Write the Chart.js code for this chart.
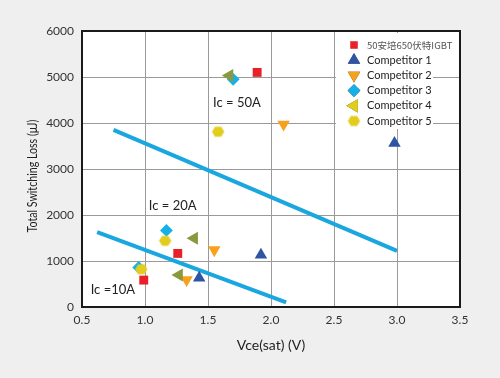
<!DOCTYPE html>
<html>
<head>
<meta charset="utf-8">
<script src="https://cdn.jsdelivr.net/npm/chart.js@4/dist/chart.umd.min.js"></script>
<style>
html,body{margin:0;padding:0;background:#efefef;}
#wrap{width:500px;height:378px;}
</style>
</head>
<body>
<div id="wrap"><canvas id="c" width="500" height="378"></canvas></div>
<script>
// ---- data ----
const seriesNames = ['50安培650伏特IGBT','Competitor 1','Competitor 2','Competitor 3','Competitor 4','Competitor 5'];
const igbtX  = [1.89, 1.26, 0.99];
const igbtY  = [5100, 1165, 585];
const comp1X = [2.98, 1.92, 1.43];
const comp1Y = [3560, 1130, 630];
const comp2X = [2.10, 1.55, 1.33];
const comp2Y = [3970, 1240, 590];
const comp3X = [1.70, 1.17, 0.95];
const comp3Y = [4950, 1665, 860];
const comp4X = [1.67, 1.39, 1.27];
const comp4Y = [5030, 1495, 695];
const comp5X = [1.58, 1.16, 0.97];
const comp5Y = [3810, 1440, 820];
const line50X = [0.75, 3.00];
const line50Y = [3850, 1220];
const line20X = [0.62, 2.12];
const line20Y = [1630, 100];
const xTickValues = [0.5, 1.0, 1.5, 2.0, 2.5, 3.0, 3.5];
const yTickValues = [0, 1000, 2000, 3000, 4000, 5000, 6000];
const noteTexts = ['Ic = 50A', 'Ic = 20A', 'Ic =10A'];
const noteX = [1.73, 1.22, 0.745];
const noteY = [4435, 2195, 370];
const xTitle = 'Vce(sat) (V)';
const yTitle = 'Total Switching Loss (μJ)';

const FONT = 'Lato';

function pts(xs, ys){ return xs.map((x,i)=>({x:x, y:ys[i]})); }

// hexagon point style
function hexCanvas(r, color){
  const c = document.createElement('canvas');
  const s = Math.ceil(2*r+2);
  c.width = s; c.height = s;
  const g = c.getContext('2d');
  g.fillStyle = color;
  g.beginPath();
  for (let k=0;k<6;k++){
    const a = Math.PI/3*k;
    const px = s/2 + r*Math.cos(a), py = s/2 + r*0.95*Math.sin(a);
    if (k===0) g.moveTo(px,py); else g.lineTo(px,py);
  }
  g.closePath(); g.fill();
  return c;
}
const hexImg = hexCanvas(6.2, '#e2cd1f');

const styles = [
  {color:'#e8202a', pointStyle:'rect', rotation:0, radius:6.3},
  {color:'#2e54a3', pointStyle:'triangle', rotation:0, radius:7.2},
  {color:'#f7a11d', pointStyle:'triangle', rotation:180, radius:7.2},
  {color:'#16b0e8', pointStyle:'rectRot', rotation:0, radius:6.4},
  {color:'#8c983d', pointStyle:'triangle', rotation:-90, radius:7.6},
  {color:'#e2cd1f', pointStyle:hexImg, rotation:0, radius:6.2}
];
const seriesX = [igbtX, comp1X, comp2X, comp3X, comp4X, comp5X];
const seriesY = [igbtY, comp1Y, comp2Y, comp3Y, comp4Y, comp5Y];
const drawOrder = [5, 4, 3, 2, 1, 0]; // lower = on top

const datasets = seriesNames.map((n,i)=>({
  type:'scatter',
  label:n,
  data:pts(seriesX[i], seriesY[i]),
  backgroundColor:styles[i].color,
  borderColor:styles[i].color,
  borderWidth:0,
  pointStyle:styles[i].pointStyle,
  rotation:styles[i].rotation,
  pointRadius:styles[i].radius,
  pointHoverRadius:styles[i].radius,
  order:drawOrder[i]
}));
[[line50X,line50Y],[line20X,line20Y]].forEach((l,i)=>{
  datasets.push({
    type:'line', label:'fit'+i, data:pts(l[0],l[1]),
    borderColor:'#1aa7df', borderWidth:4, pointRadius:0, fill:false,
    borderCapStyle:'butt', order:10
  });
});

const bgPlugin = {
  id:'bg',
  beforeDraw(chart){
    const {ctx, chartArea:a} = chart;
    ctx.save();
    ctx.fillStyle = '#efefef';
    ctx.fillRect(0,0,chart.width,chart.height);
    ctx.fillStyle = '#ffffff';
    ctx.fillRect(a.left,a.top,a.right-a.left,a.bottom-a.top);
    ctx.restore();
  },
  afterDraw(chart){
    const {ctx, chartArea:a} = chart;
    ctx.save();
    ctx.translate(32, (a.top + a.bottom)/2 + 7);
    ctx.rotate(-Math.PI/2);
    ctx.scale(0.76, 1);
    ctx.font = '14px ' + FONT;
    ctx.fillStyle = '#222';
    ctx.textAlign = 'center';
    ctx.textBaseline = 'middle';
    ctx.fillText(yTitle, 0, 0);
    ctx.restore();
  }
};

const legendPlugin = {
  id:'innerLegend',
  beforeDatasetsDraw(chart){
    const ctx = chart.ctx;
    ctx.save();
    ctx.fillStyle = '#ffffff';
    ctx.fillRect(336, 33, 97, 96);
    seriesNames.forEach((n,i)=>{
      const y = 45 + i*15.2;
      Chart.helpers.drawPoint(ctx, {
        pointStyle:styles[i].pointStyle, rotation:styles[i].rotation,
        radius:styles[i].radius*(i===0?0.85:1), borderWidth:0
      }, 354, y);
      ctx.fillStyle = styles[i].color;
      ctx.fill();
      ctx.textBaseline = 'middle';
      ctx.textAlign = 'left';
      if (i===0){ ctx.font = '9.5px "Noto Sans CJK SC", ' + FONT; ctx.fillStyle = '#555'; }
      else { ctx.font = '11px ' + FONT; ctx.fillStyle = '#222'; }
      ctx.fillText(n, 367, y);
    });
    ctx.restore();
  },
  afterDatasetsDraw(chart){
    const {ctx, chartArea:a, scales} = chart;
    ctx.save();
    ctx.strokeStyle = '#1a1a1a';
    ctx.lineWidth = 2;
    ctx.strokeRect(a.left, a.top, a.right-a.left, a.bottom-a.top);
    ctx.fillStyle = '#222';
    ctx.font = '13px ' + FONT;
    ctx.textAlign = 'center';
    ctx.textBaseline = 'middle';
    noteTexts.forEach((t,i)=>{
      ctx.fillText(t, scales.x.getPixelForValue(noteX[i]), scales.y.getPixelForValue(noteY[i]));
    });
    ctx.restore();
  }
};

new Chart(document.getElementById('c'), {
  type:'scatter',
  data:{datasets:datasets},
  plugins:[bgPlugin, legendPlugin],
  options:{
    responsive:false,
    animation:false,
    events:[],
    layout:{padding:{left:0, top:31, right:40, bottom:0}},
    plugins:{legend:{display:false}, tooltip:{enabled:false}},
    scales:{
      x:{
        type:'linear', min:0.5, max:3.5,
        afterBuildTicks(s){ s.ticks = xTickValues.map(v=>({value:v})); },
        afterFit(s){ s.height = 71; },
        ticks:{callback:v=>v.toFixed(1), color:'#333', font:{family:FONT, size:12}, padding:6, maxRotation:0},
        grid:{color:'#9a9a9a', lineWidth:1, drawTicks:false},
        border:{display:false},
        title:{display:true, text:xTitle, color:'#222', font:{family:FONT, size:14}, padding:{top:0, bottom:24}}
      },
      y:{
        type:'linear', min:0, max:6000,
        afterBuildTicks(s){ s.ticks = yTickValues.map(v=>({value:v})); },
        afterFit(s){ s.width = 82; },
        ticks:{callback:v=>String(v), color:'#333', font:{family:FONT, size:12}, padding:8},
        grid:{color:'#9a9a9a', lineWidth:1, drawTicks:false},
        border:{display:false},
        title:{display:false}
      }
    }
  }
});
</script>
</body>
</html>
